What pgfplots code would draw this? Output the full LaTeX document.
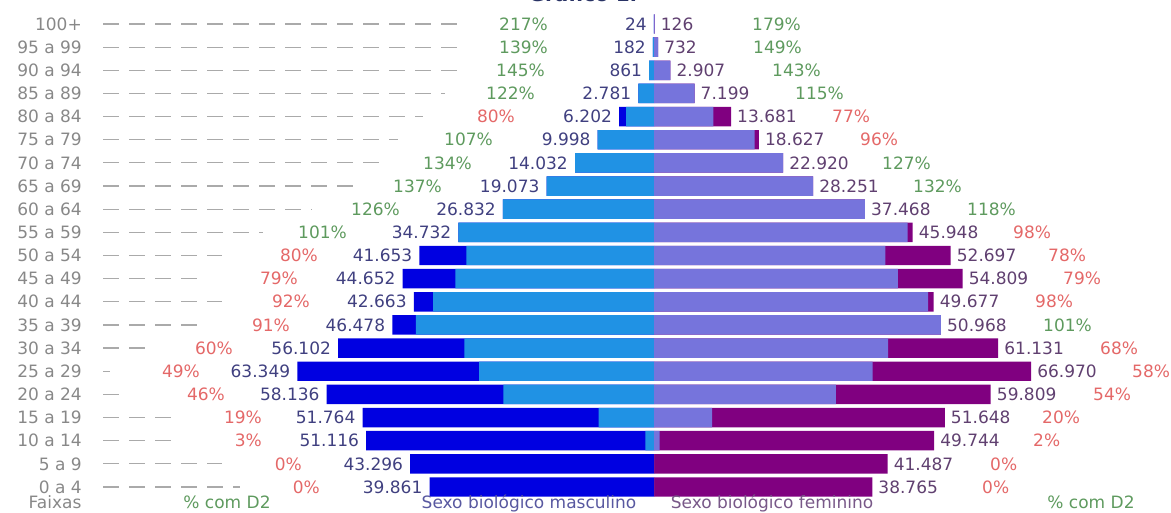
\documentclass[border=0pt]{standalone}
\usepackage{pgfplots}
\pgfplotsset{compat=1.18}
\usepackage{pgfplotstable}
\usepackage{fontspec}
\setmainfont{DejaVu Sans}
\definecolor{mdark}{RGB}{0,0,225}
\definecolor{mlight}{RGB}{32,146,228}
\definecolor{flight}{RGB}{118,116,220}
\definecolor{fdark}{RGB}{128,0,128}
\definecolor{mnum}{RGB}{64,64,128}
\definecolor{fnum}{RGB}{96,64,112}
\definecolor{pctg}{RGB}{94,154,94}
\definecolor{pctr}{RGB}{228,104,104}
\definecolor{rowgray}{RGB}{136,136,136}
\definecolor{dashgray}{RGB}{170,170,170}
\definecolor{mtitle}{RGB}{88,88,160}
\definecolor{ftitle}{RGB}{120,88,136}
\definecolor{titlec}{RGB}{40,50,100}

\pgfplotstableread{
i mtot mvac mlab ftot fvac flab
20 -24 -24 24 126 126 126
19 -182 -182 182 732 732 732
18 -861 -861 861 2907 2907 2.907
17 -2781 -2781 2.781 7199 7199 7.199
16 -6202 -4962 6.202 13681 10534 13.681
15 -9998 -9998 9.998 18627 17882 18.627
14 -14032 -14032 14.032 22920 22920 22.920
13 -19073 -19073 19.073 28251 28251 28.251
12 -26832 -26832 26.832 37468 37468 37.468
11 -34732 -34732 34.732 45948 45029 45.948
10 -41653 -33322 41.653 52697 41104 52.697
9 -44652 -35275 44.652 54809 43299 54.809
8 -42663 -39250 42.663 49677 48683 49.677
7 -46478 -42295 46.478 50968 50968 50.968
6 -56102 -33661 56.102 61131 41569 61.131
5 -63349 -31041 63.349 66970 38843 66.970
4 -58136 -26743 58.136 59809 32297 59.809
3 -51764 -9835 51.764 51648 10330 51.648
2 -51116 -1533 51.116 49744 995 49.744
1 -43296 0 43.296 41487 0 41.487
0 -39861 0 39.861 38765 0 38.765
}\data

\begin{document}
\begin{tikzpicture}[x=1pt,y=1pt,
  lab/.style={font=\fontsize{17}{20}\selectfont, inner sep=0pt}]
\useasboundingbox (0,0) rectangle (1171,512);
\begin{axis}[at={(0pt,0pt)}, anchor=south west, scale only axis,
  width=1171pt, height=512pt,
  xmin=-116163, xmax=91829, ymin=-1.08, ymax=21.037,
  hide axis, clip=false]
\addplot[xbar, bar shift=0pt, bar width=0.84, fill=mdark, draw=none,
  nodes near coords, point meta=explicit symbolic,
  nodes near coords style={anchor=east, xshift=-7pt, inner sep=0pt,
    font=\fontsize{17}{20}\selectfont, text=mnum}]
  table[x=mtot, y=i, meta=mlab] {\data};
\addplot[xbar, bar shift=0pt, bar width=0.84, fill=mlight, draw=none]
  table[x=mvac, y=i] {\data};
\addplot[xbar, bar shift=0pt, bar width=0.84, fill=fdark, draw=none,
  nodes near coords, point meta=explicit symbolic,
  nodes near coords style={anchor=west, xshift=6pt, inner sep=0pt,
    font=\fontsize{17}{20}\selectfont, text=fnum}]
  table[x=ftot, y=i, meta=flab] {\data};
\addplot[xbar, bar shift=0pt, bar width=0.84, fill=flight, draw=none]
  table[x=fvac, y=i] {\data};
\end{axis}

% title (cut off at top, as in the reference)
\node[font=\bfseries\fontsize{20}{24}\selectfont, text=titlec, anchor=base, inner sep=0pt] at (583,510.5) {Gráfico 1.};

% dashed fillers
\foreach \i/\e in {20/463,19/463,18/460,17/445,16/423,15/398,14/383,13/358,12/312,11/263,10/222,9/205,8/222,7/197,6/147,5/110,4/127,3/173,2/173,1/222,0/240}{
  \draw[dashgray, line width=1.2pt, dash pattern=on 16pt off 10pt] (103,{25+23.15*\i}) -- (\e,{25+23.15*\i});
}

% row labels
\foreach \i/\t in {20/100+,19/95 a 99,18/90 a 94,17/85 a 89,16/80 a 84,15/75 a 79,14/70 a 74,13/65 a 69,12/60 a 64,11/55 a 59,10/50 a 54,9/45 a 49,8/40 a 44,7/35 a 39,6/30 a 34,5/25 a 29,4/20 a 24,3/15 a 19,2/10 a 14,1/5 a 9,0/0 a 4}{
  \node[lab, text=rowgray, anchor=east] at (82,{25+23.15*\i}) {\t};
}

% male percentages
\foreach \i/\x/\t/\c in {20/548/217/g,19/548/139/g,18/545/145/g,17/535/122/g,16/515/80/r,15/493/107/g,14/472/134/g,13/442/137/g,12/400/126/g,11/347/101/g,10/318/80/r,9/298/79/r,8/310/92/r,7/290/91/r,6/233/60/r,5/200/49/r,4/225/46/r,3/262/19/r,2/262/3/r,1/302/0/r,0/320/0/r}{
  \node[lab, text=pct\c, anchor=east] at (\x,{25+23.15*\i}) {\t\%};
}

% female percentages
\foreach \i/\x/\t/\c in {20/752/179/g,19/753/149/g,18/772/143/g,17/795/115/g,16/832/77/r,15/860/96/r,14/882/127/g,13/913/132/g,12/967/118/g,11/1013/98/r,10/1048/78/r,9/1063/79/r,8/1035/98/r,7/1043/101/g,6/1100/68/r,5/1132/58/r,4/1093/54/r,3/1042/20/r,2/1033/2/r,1/990/0/r,0/982/0/r}{
  \node[lab, text=pct\c, anchor=west] at (\x,{25+23.15*\i}) {\t\%};
}

% bottom labels
\node[lab, text=rowgray, anchor=base] at (55,4) {Faixas};
\node[lab, text=pctg, anchor=base] at (227,4) {\% com D2};
\node[lab, text=mtitle, anchor=base] at (529,4) {Sexo biológico masculino};
\node[lab, text=ftitle, anchor=base] at (772,4) {Sexo biológico feminino};
\node[lab, text=pctg, anchor=base] at (1091,4) {\% com D2};
\end{tikzpicture}
\end{document}
